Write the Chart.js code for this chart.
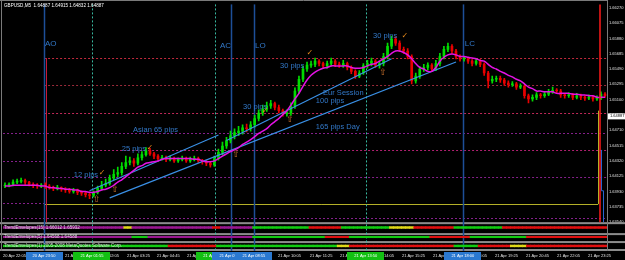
<!DOCTYPE html>
<html>
<head>
<meta charset="utf-8">
<script src="https://cdn.jsdelivr.net/npm/chart.js@4.4.1/dist/chart.umd.min.js"></script>
<style>
  html, body { margin: 0; padding: 0; background: #000; }
</style>
</head>
<body>
<canvas id="gbpusdChart" width="625" height="260"></canvas>
<script>
/* GBPUSD M5 chart, MT4 style, with session lines and pip notes */

// ---- price data (M5 candles) ----
const opens = [1.6400,1.6401,1.6402,1.6405,1.6406,1.6407,1.6405,1.6402,1.6401,1.6400,
 1.6401,1.6400,1.6398,1.6397,1.6398,1.6396,1.6395,1.6393,1.6395,1.6392,
 1.6391,1.6389,1.6388,1.6392,1.6397,1.6401,1.6403,1.6410,1.6415,1.6417,
 1.6425,1.6430,1.6432,1.6429,1.6436,1.6440,1.6445,1.6441,1.6438,1.6435,
 1.6436,1.6434,1.6435,1.6432,1.6434,1.6435,1.6432,1.6434,1.6435,1.6432,
 1.6431,1.6429,1.6427,1.6435,1.6443,1.6451,1.6458,1.6464,1.6468,1.6470,
 1.6474,1.6473,1.6478,1.6486,1.6493,1.6498,1.6502,1.6505,1.6500,1.6496,
 1.6492,1.6493,1.6502,1.6521,1.6536,1.6549,1.6554,1.6555,1.6559,1.6556,
 1.6553,1.6556,1.6559,1.6555,1.6554,1.6556,1.6551,1.6546,1.6540,1.6544,
 1.6553,1.6556,1.6559,1.6554,1.6556,1.6565,1.6578,1.6587,1.6582,1.6574,
 1.6572,1.6565,1.6534,1.6540,1.6549,1.6551,1.6554,1.6549,1.6556,1.6565,
 1.6574,1.6578,1.6572,1.6565,1.6562,1.6562,1.6559,1.6556,1.6559,1.6555,
 1.6544,1.6534,1.6536,1.6537,1.6535,1.6531,1.6529,1.6530,1.6526,1.6527,
 1.6515,1.6511,1.6513,1.6516,1.6515,1.6517,1.6520,1.6522,1.6521,1.6516,
 1.6515,1.6516,1.6513,1.6515,1.6513,1.6512,1.6513,1.6511,1.6512,1.6517];

const highs = [1.6404,1.6404,1.6408,1.6409,1.6410,1.6409,1.6406,1.6404,1.6403,1.6403,
 1.6404,1.6402,1.6400,1.6401,1.6399,1.6398,1.6397,1.6397,1.6396,1.6394,
 1.6393,1.6391,1.6394,1.6400,1.6406,1.6409,1.6414,1.6421,1.6424,1.6430,
 1.6438,1.6437,1.6435,1.6441,1.6444,1.6449,1.6448,1.6443,1.6440,1.6439,
 1.6438,1.6438,1.6437,1.6436,1.6438,1.6437,1.6437,1.6438,1.6437,1.6434,
 1.6433,1.6431,1.6438,1.6447,1.6456,1.6462,1.6470,1.6473,1.6476,1.6478,
 1.6479,1.6482,1.6490,1.6497,1.6503,1.6507,1.6509,1.6507,1.6503,1.6498,
 1.6497,1.6506,1.6525,1.6540,1.6553,1.6558,1.6559,1.6563,1.6561,1.6558,
 1.6559,1.6563,1.6561,1.6558,1.6560,1.6558,1.6553,1.6548,1.6547,1.6556,
 1.6560,1.6563,1.6561,1.6559,1.6569,1.6582,1.6591,1.6590,1.6585,1.6577,
 1.6575,1.6567,1.6544,1.6552,1.6555,1.6557,1.6556,1.6560,1.6569,1.6578,
 1.6582,1.6580,1.6574,1.6567,1.6565,1.6564,1.6561,1.6562,1.6561,1.6557,
 1.6546,1.6540,1.6540,1.6540,1.6537,1.6534,1.6533,1.6532,1.6530,1.6529,
 1.6517,1.6516,1.6519,1.6518,1.6520,1.6523,1.6526,1.6524,1.6523,1.6518,
 1.6519,1.6518,1.6518,1.6517,1.6515,1.6516,1.6515,1.6515,1.6520,1.6519];

const lows = [1.6398,1.6399,1.6400,1.6403,1.6404,1.6402,1.6400,1.6398,1.6397,1.6398,
 1.6397,1.6396,1.6394,1.6395,1.6393,1.6392,1.6391,1.6391,1.6389,1.6388,
 1.6386,1.6384,1.6386,1.6390,1.6395,1.6399,1.6401,1.6408,1.6412,1.6414,
 1.6422,1.6427,1.6425,1.6427,1.6433,1.6438,1.6439,1.6435,1.6433,1.6433,
 1.6431,1.6432,1.6430,1.6430,1.6432,1.6430,1.6430,1.6432,1.6430,1.6428,
 1.6426,1.6424,1.6425,1.6433,1.6440,1.6448,1.6455,1.6460,1.6464,1.6466,
 1.6469,1.6470,1.6475,1.6483,1.6490,1.6495,1.6499,1.6497,1.6493,1.6489,
 1.6489,1.6490,1.6499,1.6518,1.6533,1.6546,1.6551,1.6552,1.6553,1.6550,
 1.6550,1.6553,1.6552,1.6551,1.6551,1.6548,1.6543,1.6537,1.6538,1.6542,
 1.6550,1.6553,1.6551,1.6550,1.6553,1.6562,1.6575,1.6579,1.6571,1.6569,
 1.6562,1.6530,1.6531,1.6537,1.6546,1.6548,1.6546,1.6547,1.6553,1.6562,
 1.6571,1.6569,1.6562,1.6559,1.6559,1.6556,1.6553,1.6554,1.6552,1.6541,
 1.6525,1.6531,1.6533,1.6532,1.6528,1.6526,1.6527,1.6523,1.6524,1.6512,
 1.6506,1.6508,1.6510,1.6512,1.6513,1.6515,1.6518,1.6518,1.6513,1.6512,
 1.6513,1.6510,1.6511,1.6510,1.6509,1.6510,1.6508,1.6509,1.6510,1.6513];

const closes = [1.6401,1.6402,1.6405,1.6406,1.6407,1.6405,1.6402,1.6401,1.6400,1.6401,
 1.6400,1.6398,1.6397,1.6398,1.6396,1.6395,1.6393,1.6395,1.6392,1.6391,
 1.6389,1.6388,1.6392,1.6397,1.6401,1.6403,1.6410,1.6415,1.6417,1.6425,
 1.6430,1.6432,1.6429,1.6436,1.6440,1.6445,1.6441,1.6438,1.6435,1.6436,
 1.6434,1.6435,1.6432,1.6434,1.6435,1.6432,1.6434,1.6435,1.6432,1.6431,
 1.6429,1.6427,1.6435,1.6443,1.6451,1.6458,1.6464,1.6468,1.6470,1.6474,
 1.6473,1.6478,1.6486,1.6493,1.6498,1.6502,1.6505,1.6500,1.6496,1.6492,
 1.6493,1.6502,1.6521,1.6536,1.6549,1.6554,1.6555,1.6559,1.6556,1.6553,
 1.6556,1.6559,1.6555,1.6554,1.6556,1.6551,1.6546,1.6540,1.6544,1.6553,
 1.6556,1.6559,1.6554,1.6556,1.6565,1.6578,1.6587,1.6582,1.6574,1.6572,
 1.6565,1.6534,1.6540,1.6549,1.6551,1.6554,1.6549,1.6556,1.6565,1.6574,
 1.6578,1.6572,1.6565,1.6562,1.6562,1.6559,1.6556,1.6559,1.6555,1.6544,
 1.6534,1.6536,1.6537,1.6535,1.6531,1.6529,1.6530,1.6526,1.6527,1.6515,
 1.6511,1.6513,1.6516,1.6515,1.6517,1.6520,1.6522,1.6521,1.6516,1.6515,
 1.6516,1.6513,1.6515,1.6513,1.6512,1.6513,1.6511,1.6512,1.6517,1.6515];

// moving average (magenta)
const maValues = [1.6400,1.6400,1.6401,1.6401,1.6401,1.6401,1.6401,1.6401,1.6401,1.6400,
 1.6400,1.6398,1.6398,1.6397,1.6397,1.6396,1.6396,1.6395,1.6395,1.6393,
 1.6393,1.6392,1.6392,1.6393,1.6395,1.6396,1.6398,1.6401,1.6405,1.6408,
 1.6412,1.6416,1.6420,1.6424,1.6426,1.6429,1.6430,1.6431,1.6432,1.6434,
 1.6435,1.6435,1.6435,1.6435,1.6435,1.6435,1.6435,1.6434,1.6434,1.6432,
 1.6431,1.6431,1.6432,1.6435,1.6438,1.6441,1.6444,1.6446,1.6449,1.6453,
 1.6456,1.6459,1.6463,1.6467,1.6470,1.6473,1.6478,1.6482,1.6486,1.6491,
 1.6496,1.6503,1.6511,1.6518,1.6527,1.6535,1.6541,1.6545,1.6548,1.6550,
 1.6551,1.6553,1.6553,1.6553,1.6553,1.6553,1.6551,1.6550,1.6550,1.6551,
 1.6553,1.6555,1.6556,1.6559,1.6562,1.6565,1.6569,1.6572,1.6572,1.6570,
 1.6567,1.6562,1.6556,1.6551,1.6549,1.6546,1.6546,1.6551,1.6559,1.6564,
 1.6567,1.6568,1.6567,1.6565,1.6565,1.6564,1.6563,1.6562,1.6560,1.6559,
 1.6555,1.6551,1.6549,1.6546,1.6544,1.6541,1.6539,1.6536,1.6534,1.6530,
 1.6526,1.6524,1.6521,1.6521,1.6520,1.6520,1.6520,1.6518,1.6518,1.6518,
 1.6518,1.6517,1.6517,1.6516,1.6516,1.6515,1.6515,1.6513,1.6513,1.6513];

// trend lines: bar index / price at both ends
const trendStartIdx = [21, 26, 55];
const trendStartPrice = [1.6394, 1.6385, 1.6458];
const trendEndIdx = [53, 112, 96];
const trendEndPrice = [1.6465, 1.6558, 1.6562];

// horizontal price levels drawn as dotted lines
const levelPrices = [1.6563, 1.6529, 1.6493, 1.6468, 1.6446, 1.6432, 1.6411, 1.6378, 1.6377, 1.6359];
const levelFrom   = [9.7, 9.7, 9.7, -0.5, 9.7, -0.5, 9.7, -0.5, 9.7, -0.5];
const levelTo     = [null, null, null, null, null, 9.7, null, 9.7, 147.3, null];
const levelColors = ['#c0283c', '#9a2a3a', '#c02858', '#84208a', '#b02070', '#84208a', '#84208a', '#84208a', '#b4b028', '#84208a'];
const levelSolid  = [false, false, false, false, false, false, false, false, true, false];

// session lines (AO, AC, LO, LC and dotted markers) with their time boxes
const sessionIdx   = [9.7, 21.6, 52.1, 56.1, 61.8, 89.6, 113.7];
const sessionDash  = [false, true, true, false, false, true, false];
const sessionTimes = ['20 Apr 23:50', '21 Apr 01:55', '21 Apr 07:15', '21 Apr 07:55', '21 Apr 08:55', '21 Apr 13:50', '21 Apr 18:00'];

// axis labels
const yTickValues = [1.63540, 1.63735, 1.63930, 1.64125, 1.64320, 1.64515, 1.64710, 1.64905,
                     1.65100, 1.65295, 1.65490, 1.65685, 1.65880, 1.66075, 1.66270];
const yTickLabels = ['1.63540', '1.63735', '1.63930', '1.64125', '1.64320', '1.64515', '1.64710', '1.64905',
                     '1.65100', '1.65295', '1.65490', '1.65685', '1.65880', '1.66075', '1.66270'];
const timeTickPos = [-0.5, 7.2, 14.9, 22.6, 30.3, 37.7, 45.2, 52.9, 60.6, 67.8,
                     75.7, 83.2, 90.9, 98.6, 106.3, 114.0, 121.7, 129.4, 137.1, 144.8];
const timeTickLabels = ['20 Apr 22:05', '20 Apr 23:25', '21 Apr 00:45', '21 Apr 02:05', '21 Apr 03:25',
                        '21 Apr 04:45', '21 Apr 06:05', '21 Apr 07:25', '21 Apr 08:45', '21 Apr 10:05',
                        '21 Apr 11:25', '21 Apr 12:45', '21 Apr 14:05', '21 Apr 15:25', '21 Apr 16:45',
                        '21 Apr 18:05', '21 Apr 19:25', '21 Apr 20:45', '21 Apr 22:05', '21 Apr 23:25'];

// notes written on the chart (text, bar index, price)
const noteTexts  = ['AO', 'AC', 'LO', 'LC', '12 pips', '25 pips', 'Asian 65 pips', '30 pips', '30 pips',
                    'Eur Session', '100 pips', '165 pips Day', '30 pips'];
const noteIdx    = [9.9, 53.4, 62.1, 114.2, 17.1, 29.0, 31.8, 59.1, 68.3, 79.0, 77.2, 77.2, 91.4];
const notePrice  = [1.6578, 1.6576, 1.6576, 1.6578, 1.6412, 1.6445, 1.6469, 1.6498, 1.6550, 1.6516, 1.6506, 1.6473, 1.6589];
const checkIdx   = [24.1, 36.0, 64.6, 75.7, 99.3];
const checkPrice = [1.6417, 1.6449, 1.6496, 1.6569, 1.6591];
const arrowIdx   = [22.8, 27.3, 57.4, 70.8, 93.9];
const arrowPrice = [1.6383, 1.6395, 1.6440, 1.6484, 1.6544];

// indicator strips: run lengths of colour states (g up, r down, y flat, m neutral)
const strip1Runs = [[30,'m'],[2,'y'],[20,'m'],[2,'r'],[8,'m'],[14,'g'],[8,'r'],[12,'g'],[6,'y'],[10,'r'],[12,'g'],[26,'r']];
const strip2Runs = [[32,'m'],[4,'g'],[26,'m'],[18,'g'],[6,'r'],[20,'g'],[10,'r'],[14,'g'],[20,'r']];
const strip3Runs = [[41,'g'],[12,'r'],[30,'g'],[3,'y'],[26,'r'],[6,'g'],[8,'r'],[4,'y'],[20,'r']];
const stripNames = ['TrendEnvelopes(15) 1.66012 1.65932', 'TrendEnvelopes(5) 1.64568 1.64588',
                    'TrendEnvelopes(1) 2005-2008 MetaQuotes Software Corp.'];

const titleText = 'GBPUSD,M5  1.64887 1.64915 1.64832 1.64887';
const lastPrice = 1.64887;

// ---- styles ----
const FONT = "'Liberation Sans', Arial, sans-serif";
const BULL = '#00dc00', BEAR = '#e80000';
const STATE_COLORS = { g: '#12cc12', r: '#e01010', y: '#e0d818', m: '#9a1890' };

const expandRuns = runs => runs.flatMap(([n, c]) => Array(n).fill(c));
const stripStates = [strip1Runs, strip2Runs, strip3Runs].map(expandRuns);
const idx = closes.map((_, i) => i);
const candleColor = ctx => closes[ctx.dataIndex] >= opens[ctx.dataIndex] ? BULL : BEAR;

/**
 * Draws the MT4 objects: levels, session lines, notes, separators, boxes
 */
const mt4Objects = {
    id: 'mt4Objects',
    beforeDraw(chart) {
        const { ctx, width, height } = chart;
        ctx.save();
        ctx.fillStyle = '#000';
        ctx.fillRect(0, 0, width, height);
        ctx.restore();
    },
    beforeDatasetsDraw(chart) {
        const { ctx, chartArea, scales } = chart;
        const xs = scales.x, ys = scales.y;
        const X = v => xs.getPixelForValue(v);
        const Y = v => ys.getPixelForValue(v);
        ctx.save();

        // pane separators
        ctx.fillStyle = '#8c8c8c';
        ['p1', 'p2', 'p3'].forEach(id => ctx.fillRect(0, scales[id].top, chart.width, 2));
        ctx.fillRect(0, scales.p3.bottom - 2, chart.width, 2);

        // frame
        ctx.strokeStyle = '#7a7a7a';
        ctx.lineWidth = 1;
        ctx.beginPath();
        ctx.moveTo(chartArea.right + 0.5, 0); ctx.lineTo(chartArea.right + 0.5, scales.p3.bottom);
        ctx.moveTo(1.5, 0); ctx.lineTo(1.5, scales.p3.bottom);
        ctx.moveTo(0, 0.5); ctx.lineTo(chartArea.right, 0.5);
        ctx.stroke();

        // horizontal levels
        levelPrices.forEach((p, k) => {
            const y = Math.round(Y(p)) + 0.5;
            ctx.strokeStyle = levelColors[k];
            ctx.setLineDash(levelSolid[k] ? [] : [2, 2]);
            ctx.beginPath();
            ctx.moveTo(X(levelFrom[k]), y);
            ctx.lineTo(levelTo[k] == null ? chartArea.right : X(levelTo[k]), y);
            ctx.stroke();
        });

        // session lines run through all panes
        sessionIdx.forEach((v, k) => {
            const x = Math.round(X(v)) + 0.5;
            ctx.strokeStyle = sessionDash[k] ? '#38b8a0' : '#1d4f98';
            ctx.lineWidth = sessionDash[k] ? 1 : 1.5;
            ctx.setLineDash(sessionDash[k] ? [2, 2] : []);
            ctx.beginPath();
            ctx.moveTo(x, chartArea.top);
            ctx.lineTo(x, scales.p3.bottom);
            ctx.stroke();
        });
        ctx.setLineDash([]);

        // box edge at the AO line, and the indicator spikes at the right edge
        ctx.lineWidth = 1;
        ctx.strokeStyle = '#c81838';
        ctx.beginPath();
        ctx.moveTo(Math.round(X(10.1)) + 0.5, Y(1.6563));
        ctx.lineTo(Math.round(X(10.1)) + 0.5, ys.bottom);
        ctx.stroke();
        ctx.strokeStyle = '#b4b028';
        ctx.beginPath();
        ctx.moveTo(Math.round(X(147.3)) + 0.5, Y(1.6496));
        ctx.lineTo(Math.round(X(147.3)) + 0.5, Y(1.6377));
        ctx.stroke();
        ctx.strokeStyle = '#2a64d0';
        ctx.beginPath();
        ctx.moveTo(Math.round(X(148.1)) + 0.5, Y(1.6446));
        ctx.lineTo(Math.round(X(148.1)) + 0.5, Y(1.6394));
        ctx.lineTo(Math.round(X(148.6)) + 0.5, Y(1.6394));
        ctx.lineTo(Math.round(X(148.6)) + 0.5, ys.bottom);
        ctx.stroke();
        ctx.restore();
    },
    afterDatasetsDraw(chart) {
        const { ctx, chartArea, scales } = chart;
        const xs = scales.x, ys = scales.y;
        const X = v => xs.getPixelForValue(v);
        const Y = v => ys.getPixelForValue(v);
        ctx.save();

        // red spike line at the right edge
        ctx.strokeStyle = '#ff1a1a';
        ctx.lineWidth = 1.5;
        ctx.beginPath();
        ctx.moveTo(Math.round(X(147.75)), chartArea.top);
        ctx.lineTo(Math.round(X(147.75)), ys.bottom);
        ctx.stroke();

        // notes
        ctx.fillStyle = '#3278c8';
        ctx.textBaseline = 'alphabetic';
        ctx.textAlign = 'left';
        noteTexts.forEach((t, k) => {
            ctx.font = (t.length === 2 ? '8px ' : '7.5px ') + FONT;
            ctx.fillText(t, X(noteIdx[k]), Y(notePrice[k]));
        });

        // check marks and up arrows
        ctx.textAlign = 'center';
        ctx.textBaseline = 'middle';
        ctx.fillStyle = '#e88a1a';
        ctx.font = "bold 8px 'DejaVu Sans'";
        checkIdx.forEach((v, k) => ctx.fillText('\u2713', X(v), Y(checkPrice[k])));
        ctx.fillStyle = '#c8702c';
        ctx.font = "9px 'DejaVu Sans'";
        arrowIdx.forEach((v, k) => ctx.fillText('\u21E7', X(v), Y(arrowPrice[k])));

        // indicator names
        ctx.textAlign = 'left';
        ctx.textBaseline = 'middle';
        ctx.fillStyle = '#dcdcdc';
        ctx.font = '4.5px ' + FONT;
        ['p1', 'p2', 'p3'].forEach((id, k) => {
            const s = scales[id];
            ctx.fillText(stripNames[k], 4, s.getPixelForValue(0.5));
        });

        // title
        ctx.textBaseline = 'top';
        ctx.fillStyle = '#ffffff';
        ctx.font = '4.6px ' + FONT;
        ctx.fillText(titleText, 4, 3);
        ctx.restore();
    },
    afterDraw(chart) {
        const { ctx, chartArea, scales } = chart;
        const xs = scales.x, ys = scales.y;
        ctx.save();
        ctx.font = '4px ' + FONT;
        ctx.textAlign = 'center';
        ctx.textBaseline = 'middle';
        const top = xs.top + 1;
        sessionIdx.forEach((v, k) => {
            const x = xs.getPixelForValue(v);
            ctx.fillStyle = sessionDash[k] ? '#12c012' : '#2a78d0';
            ctx.fillRect(Math.round(x - 18.5), top, 37, 8);
            ctx.fillStyle = '#ffffff';
            ctx.fillText(sessionTimes[k], x, top + 4);
        });

        // last price box on the price scale
        const py = ys.getPixelForValue(lastPrice);
        ctx.fillStyle = '#ffffff';
        ctx.fillRect(chartArea.right + 1, py - 3, chart.width - chartArea.right - 1, 6);
        ctx.fillStyle = '#000';
        ctx.textAlign = 'left';
        ctx.fillText(lastPrice.toFixed(5), chartArea.right + 3, py);
        ctx.restore();
    }
};

const paneAxis = weight => ({
    type: 'linear', position: 'right', stack: 'panes', stackWeight: weight,
    min: 0, max: 1,
    ticks: { display: false },
    grid: { display: false, drawTicks: false },
    border: { display: false },
    afterFit: s => { s.width = 18; }
});

const stripDataset = (k, axis) => ({
    type: 'bar',
    data: idx.map(i => ({ x: i, y: [0.42, 0.6] })),
    backgroundColor: ctx => STATE_COLORS[stripStates[k][ctx.dataIndex]],
    barThickness: 4.1,
    grouped: false,
    yAxisID: axis,
    order: 3
});

new Chart(document.getElementById('gbpusdChart').getContext('2d'), {
    type: 'bar',
    data: {
        datasets: [
            {
                label: 'wicks',
                data: idx.map(i => ({ x: i, y: [lows[i], highs[i]] })),
                backgroundColor: candleColor,
                barThickness: 1,
                grouped: false,
                yAxisID: 'y',
                order: 2
            },
            {
                label: 'bodies',
                data: idx.map(i => ({ x: i, y: [opens[i], closes[i]] })),
                backgroundColor: candleColor,
                barThickness: 2,
                minBarLength: 1,
                grouped: false,
                yAxisID: 'y',
                order: 1
            },
            {
                type: 'line',
                label: 'MA',
                data: idx.map(i => ({ x: i, y: maValues[i] })),
                borderColor: '#e412e4',
                borderWidth: 1.5,
                pointRadius: 0,
                tension: 0.3,
                yAxisID: 'y',
                order: 0
            },
            ...trendStartIdx.map((s, k) => ({
                type: 'line',
                label: 'trend' + k,
                data: [{ x: s, y: trendStartPrice[k] }, { x: trendEndIdx[k], y: trendEndPrice[k] }],
                borderColor: '#3a90e6',
                borderWidth: 1.2,
                pointRadius: 0,
                yAxisID: 'y',
                order: 0
            })),
            stripDataset(0, 'p1'),
            stripDataset(1, 'p2'),
            stripDataset(2, 'p3')
        ]
    },
    options: {
        responsive: false,
        animation: false,
        events: [],
        layout: { padding: { left: 3, top: 3, right: 0, bottom: 0 } },
        plugins: {
            legend: { display: false },
            tooltip: { enabled: false }
        },
        scales: {
            x: {
                type: 'linear',
                min: -0.5,
                max: 149.5,
                offset: false,
                grid: { display: false, drawTicks: false },
                border: { display: false },
                afterBuildTicks: s => { s.ticks = timeTickPos.map(v => ({ value: v })); },
                afterFit: s => { s.height = 9; },
                ticks: {
                    autoSkip: false,
                    maxRotation: 0,
                    align: 'start',
                    padding: 2,
                    color: '#e0e0e0',
                    font: { size: 4, family: FONT },
                    callback: (v, i) => timeTickLabels[i]
                }
            },
            y: {
                type: 'linear',
                position: 'right',
                stack: 'panes',
                stackWeight: 219,
                min: 1.63540,
                max: 1.66313,
                grid: { display: false, drawTicks: false },
                border: { display: false },
                afterBuildTicks: s => { s.ticks = yTickValues.map(v => ({ value: v })); },
                afterFit: s => { s.width = 18; },
                ticks: {
                    autoSkip: false,
                    padding: 2,
                    color: '#e0e0e0',
                    font: { size: 4, family: FONT },
                    callback: (v, i) => yTickLabels[i]
                }
            },
            p1: paneAxis(11),
            p2: paneAxis(8),
            p3: paneAxis(10)
        }
    },
    plugins: [mt4Objects]
});
</script>
</body>
</html>
